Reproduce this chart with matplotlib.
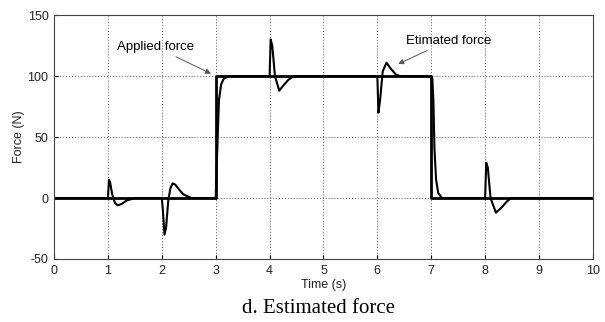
import matplotlib
matplotlib.use('Agg')
import matplotlib.pyplot as plt

# applied force (step)
applied_t = [0, 3.0, 3.0, 7.0, 7.0, 10]
applied_f = [0, 0, 100, 100, 0, 0]

# estimated force
est_t = [0, 1.0, 1.02, 1.04, 1.08, 1.13, 1.18, 1.25, 1.35, 1.5,
         2.0, 2.02, 2.05, 2.08, 2.12, 2.16, 2.2, 2.25, 2.32, 2.4, 2.55,
         3.0, 3.03, 3.06, 3.1, 3.15, 3.25,
         4.0, 4.02, 4.05, 4.1, 4.18, 4.25, 4.35, 4.45,
         6.0, 6.02, 6.05, 6.1, 6.17, 6.25, 6.35, 6.43,
         7.0, 7.02, 7.04, 7.06, 7.09, 7.13, 7.2,
         8.0, 8.02, 8.05, 8.1, 8.2, 8.3, 8.4, 8.48, 10]
est_f = [0, 0, 15, 13, 3, -4, -6, -5, -2, 0,
         0, -10, -30, -24, -2, 8, 12, 11, 7, 3, 0,
         0, 40, 80, 93, 98, 100,
         100, 130, 125, 100, 88, 92, 97, 100,
         100, 70, 80, 104, 111, 106, 101, 100,
         100, 98, 80, 40, 15, 4, 0,
         0, 29, 25, 0, -12, -8, -3, 0, 0]

x_ticks = list(range(0, 11))
y_ticks = [-50, 0, 50, 100, 150]

plt.rcParams['font.family'] = ['Liberation Sans', 'DejaVu Sans']
plt.rcParams['axes.unicode_minus'] = False

fig = plt.figure(figsize=(6.05, 3.22), dpi=100)
ax = fig.add_axes([0.0893, 0.1957, 0.8907, 0.7573])

ax.plot(applied_t, applied_f, color='black', linewidth=2.0)
ax.plot(est_t, est_f, color='black', linewidth=1.5)

ax.set_xlim(0, 10)
ax.set_ylim(-50, 150)
ax.set_xticks(x_ticks)
ax.set_yticks(y_ticks)
ax.tick_params(direction='in', labelsize=9, length=3, pad=4,
               labelcolor='#222222')
ax.grid(True, color='#555555', linestyle=(0, (1, 2)), linewidth=0.7)
for s in ax.spines.values():
    s.set_color('#444444')
    s.set_linewidth(0.8)

ax.set_xlabel('Time (s)', fontsize=9, labelpad=2, color='#222222')
ax.set_ylabel('Force (N)', fontsize=9, labelpad=2, color='#222222')

arrow = dict(arrowstyle='-|>', color='#555555', linewidth=0.7, mutation_scale=8)
ax.annotate('Applied force', xy=(2.96, 101), xytext=(1.88, 124),
            fontsize=9.5, ha='center', va='center', arrowprops=arrow)
ax.annotate('Etimated force', xy=(6.34, 109), xytext=(7.32, 129),
            fontsize=9.5, ha='center', va='center', arrowprops=arrow)

fig.text(0.526, 0.043, 'd. Estimated force', fontsize=15,
         family='Liberation Serif', ha='center', va='center')

fig.savefig('out.png', dpi=100)
